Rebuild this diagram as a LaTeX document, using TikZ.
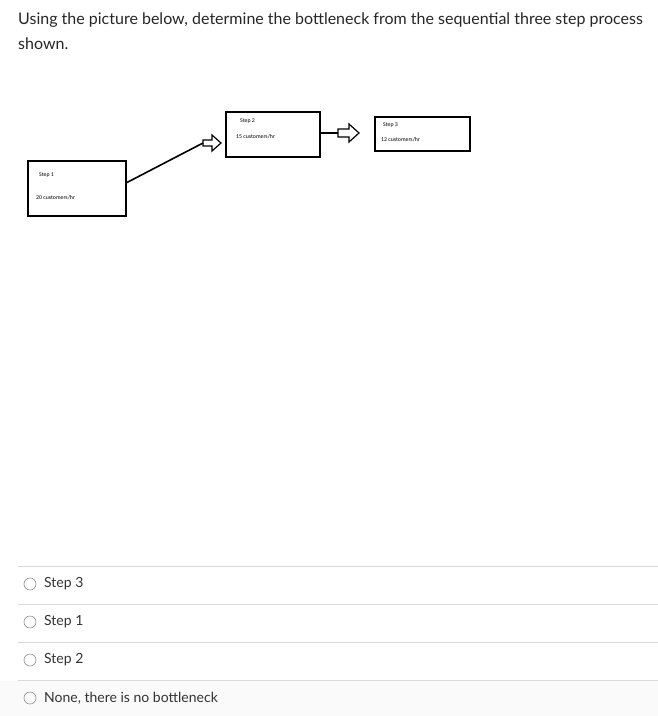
\documentclass[tikz,border=0pt]{standalone}
\usepackage{fontspec}
\setmainfont{Lato}
\newfontfamily\boxfont{Carlito}
\begin{document}
\begin{tikzpicture}[x=1pt,y=-1pt,
  small/.style={font=\boxfont\fontsize{5.8}{6}\selectfont,anchor=west,inner sep=0pt},
  opt/.style={font=\fontsize{14}{16}\selectfont,anchor=west,inner sep=0pt,text=black!80},
  sep/.style={draw=black!15,line width=0.8pt},
  radio/.style={draw=black!45,line width=0.6pt}]
\useasboundingbox (0,0) rectangle (658,716);
\fill[black!2] (0,681) rectangle (658,716);
\node[anchor=west,inner sep=0pt,font=\fontsize{16}{18}\selectfont,text=black!85] (t1) at (18,20) {Using the picture below, determine the bottleneck from the sequential three step process};
\node[anchor=west,inner sep=0pt,font=\fontsize{16}{18}\selectfont,text=black!85] (t2) at (18,44) {shown.};
% boxes
\draw[line width=1.6pt] (28,161) rectangle (126,216);
\coordinate (s1) at (126,183);
\node[small] (s1a) at (39,175) {Step 1};
\node[small] (s1b) at (36,198) {20 customers/hr};
\draw[line width=1.6pt] (226,112) rectangle (320,157);
\coordinate (s2) at (320,133);
\node[small] (s2a) at (240,121) {Step 2};
\node[small] (s2b) at (236,137) {15 customers/hr};
\draw[line width=1.6pt] (375,117) rectangle (470,151);
\node[small] (s3a) at (383,125) {Step 3};
\node[small] (s3b) at (381,140) {12 customers/hr};
% connectors
\coordinate (a1) at (203,143);
\draw[line width=1.6pt] (s1) -- (a1);
\draw[line width=1.2pt,line join=miter] (203,140) -- (212,140) -- (212,135) -- (221,143) -- (212,151) -- (212,146) -- (203,146) -- cycle;
\coordinate (a2) at (338,133);
\draw[line width=1.6pt] (s2) -- (a2);
\draw[line width=1.2pt,line join=miter] (338,129) -- (349,129) -- (349,124) -- (359,133) -- (349,142) -- (349,137) -- (338,137) -- cycle;
% options
\foreach \y in {566,604,642,680} \draw[sep] (18,\y) -- (658,\y);
\foreach \y/\t/\n in {584/Step 3/o1,622/Step 1/o2,660/Step 2/o3,698/{None, there is no bottleneck}/o4}{
  \draw[radio] (30,\y) circle (6);
  \node[opt] (\n) at (44,\y) {\t};
}
\end{tikzpicture}
\end{document}
